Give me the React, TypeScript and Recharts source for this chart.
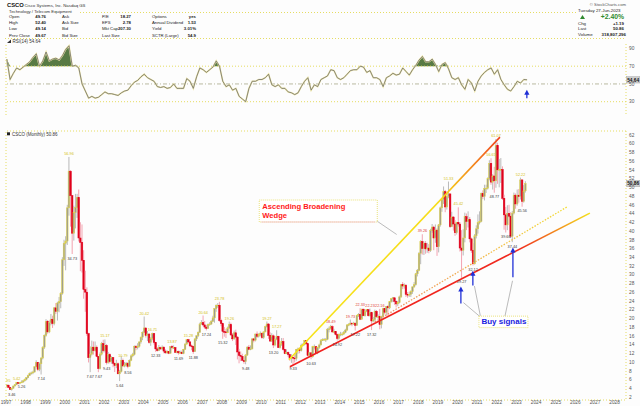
import React from 'react';
import {
  ComposedChart, Bar, Line, Area, Scatter, XAxis, YAxis, ReferenceLine, ReferenceDot,
} from 'recharts';

const FONT = '"Liberation Sans", Arial, sans-serif';
const FIRST_YEAR = 1997;
const FIRST_OPEN = 4.5;
const X_MIN = 1997;
const X_MAX = 2028.58;

// monthly closes, Jan 1997 .. Jun 2023
const closes = [
  4.7, 4.2, 3.7, 4.0, 4.5, 4.8, 5.3, 5.1, 5.3, 5.4, 5.7, 6.0,
  6.4, 6.9, 7.4, 7.5, 7.7, 8.9, 9.9, 8.3, 9.6, 10.9, 13.4, 16.1,
  19.3, 16.9, 19.0, 19.8, 18.8, 22.4, 21.6, 23.5, 23.8, 25.7, 33.4, 37.2,
  37.7, 45.3, 53.7, 48.1, 39.5, 44.2, 45.4, 47.7, 38.4, 37.4, 33.3, 26.6,
  26.0, 16.5, 11.0, 11.8, 13.4, 12.6, 13.4, 11.3, 8.5, 11.8, 14.2, 12.6,
  13.8, 9.9, 11.7, 10.1, 11.0, 9.7, 9.2, 9.6, 7.3, 7.8, 10.4, 9.1,
  9.3, 9.7, 9.0, 10.4, 11.4, 11.7, 13.6, 13.3, 13.6, 14.6, 15.7, 16.8,
  17.8, 16.1, 16.4, 14.5, 15.4, 16.5, 14.5, 13.0, 12.6, 13.3, 13.0, 13.4,
  12.5, 12.1, 12.4, 12.0, 13.5, 13.3, 13.3, 12.2, 12.4, 12.1, 12.2, 11.9,
  12.9, 14.1, 15.1, 14.6, 13.7, 13.6, 12.4, 15.3, 16.0, 16.8, 18.7, 19.0,
  18.5, 18.0, 17.7, 18.6, 18.7, 19.3, 20.1, 22.2, 23.0, 23.0, 19.5, 18.8,
  17.0, 16.9, 16.7, 17.8, 18.6, 16.2, 15.3, 16.7, 15.7, 12.3, 11.5, 11.3,
  10.4, 10.1, 11.6, 13.4, 12.9, 13.0, 15.3, 15.0, 16.4, 15.9, 16.3, 16.6,
  15.6, 16.9, 18.1, 18.7, 16.1, 14.8, 16.0, 13.9, 15.2, 15.9, 13.3, 14.1,
  14.7, 12.9, 11.9, 12.2, 11.7, 10.8, 11.1, 10.9, 10.8, 12.9, 13.0, 12.6,
  13.8, 14.0, 14.9, 14.2, 11.5, 12.1, 11.2, 13.5, 13.5, 12.1, 13.3, 13.9,
  14.9, 15.1, 15.2, 15.2, 17.5, 17.6, 18.1, 16.9, 17.0, 16.3, 15.4, 16.3,
  16.4, 16.4, 16.8, 17.3, 18.5, 18.6, 18.9, 18.7, 18.9, 18.4, 20.7, 20.9,
  19.8, 22.1, 20.6, 21.6, 22.0, 20.6, 21.3, 19.4, 19.7, 21.6, 20.4, 20.4,
  18.6, 20.4, 22.2, 21.4, 22.7, 22.4, 23.8, 24.5, 24.7, 23.9, 23.3, 23.6,
  24.9, 27.7, 27.4, 27.6, 25.5, 25.4, 25.5, 26.1, 27.2, 27.7, 30.2, 31.0,
  34.9, 37.6, 36.0, 37.2, 35.9, 36.1, 35.5, 40.1, 40.9, 38.4, 40.2, 36.4,
  41.4, 45.3, 47.2, 49.0, 45.5, 47.9, 48.5, 41.0, 43.2, 41.6, 39.6, 42.0,
  41.6, 36.1, 35.6, 38.4, 43.3, 42.2, 42.6, 38.2, 35.6, 32.5, 38.9, 40.5,
  41.9, 42.2, 48.6, 47.9, 49.7, 49.8, 52.0, 55.5, 51.2, 52.6, 51.5, 59.6,
  54.0, 54.1, 54.1, 47.5, 43.7, 41.4, 44.0, 43.4, 38.8, 44.1, 48.2, 46.2,
  48.2, 47.9, 51.7, 46.8, 49.2, 50.86,
];

const highs = [
  4.95, 4.8, 4.3, 4.1, 4.6, 4.9, 5.42, 5.4, 5.4, 5.8, 5.9, 6.2,
  6.5, 7.1, 7.6, 7.8, 8.0, 9.0, 10.4, 10.0, 9.9, 11.1, 13.6, 16.3,
  19.8, 19.6, 19.5, 21.0, 20.6, 22.6, 23.5, 23.8, 24.9, 26.0, 34.0, 38.0,
  38.8, 46.0, 56.96, 53.9, 48.2, 45.8, 48.5, 48.5, 49.5, 42.0, 41.5, 35.6,
  30.9, 27.1, 16.7, 13.6, 14.9, 14.7, 14.7, 13.8, 11.3, 12.2, 14.6, 15.1,
  15.17, 14.1, 12.3, 12.0, 11.3, 11.1, 9.9, 10.5, 9.9, 8.2, 11.3, 10.79,
  10.0, 10.0, 10.0, 10.6, 11.7, 12.1, 13.8, 13.9, 14.3, 14.7, 15.8, 17.0,
  20.42, 17.8, 17.1, 16.6, 15.7, 16.71, 16.5, 14.6, 13.4, 13.9, 13.5, 13.8,
  13.6, 12.9, 12.7, 12.5, 13.6, 13.87, 13.8, 13.4, 12.6, 12.6, 12.6, 12.6,
  13.0, 14.3, 15.1, 15.28, 14.8, 14.0, 13.7, 15.4, 16.1, 17.0, 19.0, 19.6,
  20.64, 19.4, 18.5, 18.8, 19.1, 19.6, 20.6, 22.3, 23.2, 23.5, 23.78, 19.9,
  19.0, 18.0, 17.6, 18.1, 19.26, 19.0, 16.6, 17.2, 17.4, 15.9, 13.0, 12.4,
  11.9, 11.2, 11.8, 13.6, 13.9, 13.8, 15.4, 15.5, 16.5, 17.0, 16.6, 17.0,
  16.7, 17.0, 18.3, 19.27, 18.9, 16.8, 16.6, 16.3, 15.4, 17.27, 16.0, 14.4,
  15.5, 15.5, 13.0, 12.9, 12.4, 11.8, 11.8, 11.2, 11.7, 13.0, 13.3, 13.3,
  14.2, 14.3, 15.0, 15.0, 14.2, 12.3, 12.2, 13.7, 14.0, 13.6, 13.5, 14.2,
  15.2, 15.4, 15.5, 15.5, 17.8, 18.1, 18.49, 18.4, 17.6, 17.1, 16.5, 16.5,
  16.9, 16.8, 17.1, 17.6, 18.6, 18.9, 19.73, 19.0, 19.2, 19.0, 20.8, 21.2,
  22.33, 22.2, 22.2, 22.0, 22.1, 22.0, 22.23, 21.5, 20.3, 22.0, 21.9, 20.9,
  22.16, 20.6, 22.4, 22.4, 22.8, 23.0, 23.9, 24.6, 24.9, 24.8, 24.1, 24.0,
  25.2, 27.8, 28.3, 28.0, 27.8, 26.0, 26.1, 26.4, 27.3, 28.3, 30.4, 31.3,
  35.2, 37.9, 39.26, 37.6, 37.7, 37.3, 37.0, 40.5, 41.6, 41.2, 41.5, 40.6,
  41.6, 45.6, 47.4, 50.2, 49.4, 48.0, 51.33, 48.5, 44.4, 43.4, 42.5, 42.1,
  45.42, 42.0, 40.2, 40.4, 44.2, 44.0, 44.5, 43.2, 38.5, 37.2, 39.3, 41.3,
  43.8, 44.5, 48.8, 49.3, 50.6, 50.6, 52.3, 56.2, 56.65, 53.0, 54.7, 61.07,
  60.2, 56.5, 56.7, 54.8, 48.3, 45.5, 45.9, 46.0, 44.3, 44.6, 48.8, 48.6,
  49.5, 49.6, 52.22, 51.8, 50.5, 51.4,
];

const lows = [
  4.3, 4.1, 3.6, 3.46, 3.9, 4.4, 4.7, 4.9, 4.9, 5.26, 5.3, 5.5,
  5.8, 6.3, 6.8, 7.1, 7.2, 7.6, 8.8, 7.9, 7.9, 7.14, 10.6, 13.0,
  15.8, 16.5, 16.6, 18.4, 17.8, 18.4, 21.0, 19.5, 21.4, 22.3, 25.4, 32.0,
  31.0, 36.8, 43.5, 41.0, 34.73, 37.8, 40.6, 43.0, 37.6, 30.8, 30.5, 24.5,
  21.5, 16.0, 9.9, 7.67, 11.5, 11.7, 12.4, 11.1, 7.67, 8.3, 11.5, 12.2,
  12.2, 9.43, 9.6, 9.7, 9.6, 8.8, 7.7, 8.6, 7.2, 5.64, 7.6, 8.9,
  8.8, 8.9, 8.56, 8.9, 10.2, 11.1, 11.5, 12.7, 12.9, 13.3, 14.2, 15.0,
  16.7, 15.6, 14.8, 14.2, 13.7, 15.0, 14.0, 12.33, 12.4, 12.5, 12.8, 12.7,
  12.0, 11.9, 11.9, 11.8, 11.9, 12.9, 13.0, 12.1, 12.0, 11.69, 11.9, 11.8,
  11.8, 12.8, 14.0, 14.3, 13.4, 12.7, 11.88, 12.3, 14.8, 15.7, 16.7, 18.5,
  18.2, 17.6, 17.24, 17.6, 18.3, 18.5, 19.2, 19.0, 21.5, 22.4, 19.2, 18.2,
  15.32, 15.8, 15.5, 16.6, 17.6, 16.0, 14.8, 15.1, 13.9, 10.6, 9.7, 10.2,
  10.2, 9.6, 9.48, 11.4, 12.7, 12.7, 12.9, 14.5, 14.7, 15.5, 15.6, 15.9,
  15.3, 15.3, 16.8, 17.9, 15.3, 14.6, 14.6, 13.2, 13.6, 15.0, 13.2, 13.1,
  13.7, 12.6, 11.8, 11.8, 11.2, 10.3, 9.8, 9.33, 9.9, 10.3, 11.9, 12.0,
  12.4, 13.6, 13.8, 13.9, 11.3, 11.4, 10.63, 11.0, 12.9, 11.9, 11.8, 13.0,
  13.8, 14.8, 14.9, 14.6, 15.0, 16.8, 17.4, 16.7, 16.6, 16.1, 14.92, 15.1,
  15.9, 16.0, 16.2, 16.6, 17.2, 18.2, 18.4, 18.2, 18.5, 17.22, 18.3, 20.3,
  19.6, 19.7, 20.5, 20.4, 21.4, 20.4, 20.4, 17.32, 19.1, 19.3, 20.1, 19.9,
  17.5, 17.7, 20.2, 20.9, 20.8, 20.6, 22.1, 23.6, 23.7, 23.1, 22.5, 22.8,
  23.4, 24.7, 26.7, 26.8, 24.9, 24.7, 24.9, 24.9, 25.6, 27.0, 27.5, 29.6,
  30.8, 32.4, 34.6, 34.5, 34.8, 35.0, 34.9, 35.2, 39.6, 35.6, 37.3, 34.3,
  35.1, 41.0, 44.4, 46.2, 44.3, 44.9, 47.5, 40.7, 40.9, 40.1, 38.9, 39.2,
  41.0, 35.3, 29.27, 34.4, 37.4, 40.2, 40.8, 37.4, 35.0, 32.12, 32.3, 38.3,
  39.4, 41.5, 42.0, 47.3, 47.0, 48.7, 49.5, 51.6, 50.6, 49.5, 48.77, 49.9,
  50.8, 50.0, 51.0, 47.1, 40.3, 39.66, 40.2, 43.1, 38.4, 37.44, 43.8, 45.1,
  45.8, 46.5, 47.2, 45.56, 46.5, 48.8,
];

// RSI(14), one reading every second month from Jan 1997
const rsiValues = [
  78, 55, 62, 68, 66, 69, 72, 75, 80, 84,
  70, 76, 86, 76, 78, 79, 77, 82, 89, 93,
  70, 71, 68, 50, 42, 34, 36, 34, 35, 38,
  41, 39, 39, 38, 37, 40, 42, 43, 48, 52,
  54, 58, 61, 57, 55, 53, 47, 46, 47, 45,
  46, 50, 45, 45, 45, 56, 53, 45, 58, 68,
  66, 63, 66, 69, 76, 70, 53, 47, 49, 43,
  45, 36, 33, 30, 45, 53, 53, 55, 55, 57,
  61, 49, 47, 49, 45, 45, 41, 40, 38, 40,
  47, 53, 57, 43, 49, 47, 55, 57, 59, 66,
  65, 57, 55, 57, 61, 65, 66, 66, 70, 69,
  63, 65, 57, 57, 55, 47, 57, 59, 62, 60,
  61, 68, 64, 60, 66, 71, 77, 81, 75, 75,
  78, 72, 64, 72, 74, 67, 57, 55, 57, 49,
  44, 55, 51, 42, 53, 59, 63, 66, 68, 61,
  66, 55, 49, 44, 42, 47, 53, 51, 55, 54.64,
];

const yearTicks = [
  1997, 1998, 1999, 2000, 2001, 2002, 2003, 2004, 2005, 2006, 2007, 2008, 2009, 2010, 2011, 2012,
  2013, 2014, 2015, 2016, 2017, 2018, 2019, 2020, 2021, 2022, 2023, 2024, 2025, 2026, 2027, 2028,
];
const priceTicks = [
  2, 4, 6, 8, 10, 12, 14, 16, 18, 20, 22, 24, 26, 28, 30, 32,
  34, 36, 38, 40, 42, 44, 46, 48, 50, 52, 54, 56, 58, 60, 62,
];
const rsiTicks = [30, 50, 70, 90];

// swing high / low labels: month, side, text
const swingLabels: [string, string, string][] = [
  ['1997-01', 'high', '4.95'], ['1997-04', 'low', '3.46'], ['1997-07', 'high', '5.42'],
  ['1997-10', 'low', '5.26'], ['1998-10', 'low', '7.14'], ['2000-03', 'high', '56.96'],
  ['2000-05', 'low', '34.73'], ['2001-04', 'low', '7.67'], ['2001-09', 'low', '7.67'],
  ['2002-01', 'high', '15.17'], ['2002-02', 'low', '9.43'], ['2002-10', 'low', '5.64'],
  ['2002-12', 'high', '10.79'], ['2003-03', 'low', '8.56'], ['2004-01', 'high', '20.42'],
  ['2004-06', 'high', '16.71'], ['2004-08', 'low', '12.33'], ['2005-06', 'high', '13.87'],
  ['2005-10', 'low', '11.69'], ['2006-04', 'high', '15.28'], ['2006-07', 'low', '11.88'],
  ['2007-01', 'high', '20.64'], ['2007-03', 'low', '17.24'], ['2007-11', 'high', '23.78'],
  ['2008-01', 'low', '15.32'], ['2008-05', 'high', '19.26'], ['2009-03', 'low', '9.48'],
  ['2010-04', 'high', '19.27'], ['2010-08', 'low', '13.20'], ['2010-10', 'high', '17.27'],
  ['2011-08', 'low', '9.33'], ['2012-07', 'low', '10.63'], ['2013-07', 'high', '18.49'],
  ['2013-11', 'low', '14.92'], ['2014-07', 'high', '19.73'], ['2014-10', 'low', '17.22'],
  ['2015-01', 'high', '22.33'], ['2015-07', 'high', '22.23'], ['2015-08', 'low', '17.32'],
  ['2016-01', 'high', '22.16'], ['2018-03', 'high', '39.26'], ['2019-07', 'high', '51.33'],
  ['2020-01', 'high', '45.42'], ['2020-03', 'low', '29.27'], ['2020-10', 'low', '32.12'],
  ['2021-09', 'high', '56.65'], ['2021-11', 'low', '48.77'], ['2021-12', 'high', '61.07'],
  ['2022-06', 'low', '39.66'], ['2022-10', 'low', '37.44'], ['2023-03', 'high', '52.22'],
  ['2023-04', 'low', '45.56'],
];

// drawn trend lines (year, price)
const wedgeUpper = [{ x: 2011.41, y: 10.5 }, { x: 2022.16, y: 61.5 }];
const wedgeLower = [{ x: 2011.46, y: 8.9 }, { x: 2026.74, y: 44.1 }];
const wedgeInner = [{ x: 2015.79, y: 19.2 }, { x: 2025.57, y: 45.5 }];

// buy-signal arrows: year, tail price, head price
const buyArrows = [
  { t: 2020.17, from: 23.4, to: 27.3 },
  { t: 2020.78, from: 27.5, to: 30.9 },
  { t: 2022.82, from: 29.4, to: 36.2 },
];
const buyCallouts = [
  [{ x: 2021.14, y: 20.4 }, { x: 2020.3, y: 23.6 }],
  [{ x: 2021.16, y: 20.6 }, { x: 2020.86, y: 27.4 }],
  [{ x: 2022.41, y: 20.4 }, { x: 2022.8, y: 28.6 }],
];

const monthIndex = (m: string) => (Number(m.slice(0, 4)) - FIRST_YEAR) * 12 + Number(m.slice(5, 7)) - 1;
const monthT = (i: number) => FIRST_YEAR + (i + 0.5) / 12;

const candles = closes.map((close, i) => ({
  t: monthT(i),
  open: i === 0 ? FIRST_OPEN : closes[i - 1],
  close,
  high: highs[i],
  low: lows[i],
}));

const labelPoints = swingLabels.map(([m, side, text]) => {
  const i = monthIndex(m);
  return { t: monthT(i), p: side === 'high' ? highs[i] : lows[i], side, text };
});

const rsiData = rsiValues.map((v, i) => ({
  t: FIRST_YEAR + (2 * i + 0.5) / 12,
  rsi: v,
  over: Math.max(v, 70),
}));

// small text: drawn at 6px and scaled down, so the browser's minimum font size does not apply
const Tx = ({ x, y, s = 5, children, ...rest }: any) => (
  <text transform={`translate(${x},${y}) scale(${s / 6})`} x={0} y={0} fontSize={6} {...rest}>
    {children}
  </text>
);

const Candle = (props: any) => {
  const d = props.payload || props;
  let { x, y, width, height } = props;
  if (d == null || y == null || height == null) return null;
  if (height < 0) { y += height; height = -height; }
  const span = d.high - d.low || 1;
  const yOf = (v: number) => y + ((d.high - v) / span) * height;
  const up = d.close >= d.open;
  const cx = x + width / 2;
  const top = yOf(Math.max(d.open, d.close));
  const bot = yOf(Math.min(d.open, d.close));
  return (
    <g>
      <line x1={cx} x2={cx} y1={y} y2={y + height} stroke={up ? '#a8a8a8' : '#f08c9c'} strokeWidth={0.8} />
      <rect
        x={cx - 0.8} y={top} width={1.6} height={Math.max(bot - top, 0.8)}
        fill={up ? '#9a9a94' : '#e0001b'} stroke={up ? '#e4d640' : '#e0001b'} strokeWidth={0.5}
      />
    </g>
  );
};

const SwingLabel = (props: any) => {
  const { cx, cy, payload } = props;
  if (cx == null) return null;
  const high = payload.side === 'high';
  let fill = high ? '#d4bd12' : '#3a3a3a';
  if (high && payload.t > 2012.5 && payload.t < 2018.6) fill = '#e03a30';
  return (
    <Tx x={cx} y={high ? cy - 2 : cy + 5.5} s={3.8} textAnchor="middle" fill={fill} fontFamily={FONT}>
      {payload.text}
    </Tx>
  );
};

const Arrow = (props: any) => {
  const { x1, y1, x2, y2 } = props;
  if (x1 == null) return null;
  return (
    <g>
      <line x1={x1} y1={y1} x2={x2} y2={y2 + 4} stroke="#1f2fd6" strokeWidth={1.3} />
      <polygon points={`${x2},${y2} ${x2 - 2.6},${y2 + 5} ${x2 + 2.6},${y2 + 5}`} fill="#1f2fd6" />
    </g>
  );
};

const WedgeNote = (props: any) => {
  const { cx, cy } = props;
  if (cx == null) return null;
  return (
    <g fontFamily={FONT}>
      <rect x={cx} y={cy} width={118} height={22} fill="#ffffff" stroke="#e9e27a" strokeDasharray="1 1" />
      <line x1={cx + 2} x2={cx + 116} y1={cy + 22} y2={cy + 22} stroke="#f4c6cc" />
      <text x={cx + 3} y={cy + 9} fontSize={7.6} fontWeight="bold" fill="#ff1a1a">Ascending Broadening</text>
      <text x={cx + 3} y={cy + 17.6} fontSize={7.6} fontWeight="bold" fill="#ff1a1a">Wedge</text>
    </g>
  );
};

const BuyNote = (props: any) => {
  const { cx, cy } = props;
  if (cx == null) return null;
  return (
    <g fontFamily={FONT}>
      <rect x={cx} y={cy} width={49} height={11.5} fill="#ffffff" stroke="#e9e27a" strokeDasharray="1 1" />
      <text x={cx + 2.5} y={cy + 8} fontSize={8} fontWeight="bold" fill="#1a22e0">Buy signals</text>
    </g>
  );
};

const ValueTag = (props: any) => {
  const { cx, cy, text } = props;
  if (cx == null) return null;
  return (
    <g fontFamily={FONT}>
      <rect x={cx + 0.5} y={cy - 3.2} width={13.5} height={6.4} fill="#cfcfcf" stroke="#9a9a9a" strokeWidth={0.4} />
      <Tx x={cx + 7.2} y={cy + 1.8} s={4.8} fontWeight="bold" fill="#111" textAnchor="middle">{text}</Tx>
    </g>
  );
};

const AxisTick = (props: any) => {
  const { x, y, payload, textAnchor, vertical } = props;
  return (
    <Tx
      x={x} y={vertical ? y + 1.8 : y + 4} s={4.8} textAnchor={textAnchor}
      fill="#555" fontFamily={FONT}
    >
      {String(payload.value)}
    </Tx>
  );
};

const dotted = { stroke: '#e6dd62', strokeDasharray: '1 2', strokeWidth: 1 };

const quoteRows = [
  ['Open', '49.76', 'Ask', 'P/E', '18.27', 'Options', 'yes'],
  ['High', '52.40', 'Ask Size', 'EPS', '2.78', 'Annual Dividend', '1.53'],
  ['Low', '49.14', 'Bid', 'Mkt Cap', '207.30', 'Yield', '3.01%'],
  ['Prev Close', '49.67', 'Bid Size', 'Last Size', '', 'SCTR (Large)', '54.9'],
];

const Header = () => (
  <svg width={640} height={406} style={{ position: 'absolute', left: 0, top: 0, pointerEvents: 'none' }}>
    <g fontFamily={FONT} fill="#222">
      <Tx x={7} y={7.4} s={5.8} fontWeight="bold" fill="#111">CSCO</Tx>
      <Tx x={24.5} y={7} s={4.3} fill="#333">Cisco Systems, Inc.  Nasdaq GS</Tx>
      <Tx x={9} y={12.8} s={4.3} fill="#333">Technology / Telecom Equipment</Tx>
      <line x1={80} x2={577} y1={12.5} y2={12.5} {...dotted} />
      {quoteRows.map((r, k) => {
        const y = 18 + k * 6.2;
        return (
          <g key={k}>
            <Tx x={9} y={y} s={4.3}>{r[0]}</Tx>
            <Tx x={46} y={y} s={4.3} textAnchor="end" fontWeight="bold">{r[1]}</Tx>
            <Tx x={62} y={y} s={4.3}>{r[2]}</Tx>
            <Tx x={102} y={y} s={4.3}>{r[3]}</Tx>
            <Tx x={131} y={y} s={4.3} textAnchor="end" fontWeight="bold">{r[4]}</Tx>
            <Tx x={152} y={y} s={4.3}>{r[5]}</Tx>
            <Tx x={196} y={y} s={4.3} textAnchor="end" fontWeight="bold">{r[6]}</Tx>
          </g>
        );
      })}
      <Tx x={626} y={5.6} s={4.2} fill="#555" textAnchor="end">© StockCharts.com</Tx>
      <Tx x={578} y={12.4} s={4.4}>Tuesday  27-Jun-2023</Tx>
      <polygon points="580,19 582.5,15 585,19" fill="#2f8a2f" />
      <text x={624} y={19.2} fontSize={6.8} fontWeight="bold" fill="#2f8a2f" textAnchor="end">+2.40%</text>
      <Tx x={578} y={24.6} s={4.4}>Chg</Tx>
      <Tx x={624} y={24.6} s={4.4} fontWeight="bold" textAnchor="end">+1.19</Tx>
      <Tx x={578} y={30.4} s={4.4}>Last</Tx>
      <Tx x={624} y={30.4} s={4.4} fontWeight="bold" textAnchor="end">50.86</Tx>
      <Tx x={578} y={36.2} s={4.4}>Volume</Tx>
      <Tx x={626} y={36.2} s={4.4} fontWeight="bold" textAnchor="end">318,807,296</Tx>
      <line x1={5} x2={626} y1={38.5} y2={38.5} {...dotted} />
      <polygon points="7,43 11,43 11,39.5" fill="#333" />
      <Tx x={12.5} y={42.6} s={4.5} fill="#333">RSI(14) 54.64</Tx>
      <rect x={7} y={132.3} width={3} height={3} fill="#222" />
      <Tx x={12} y={135.6} s={4.5} fill="#333">CSCO (Monthly) 50.86</Tx>
    </g>
  </svg>
);

export default function App() {
  return (
    <div style={{ position: 'relative', width: 640, height: 406, background: '#fdfdfd', overflow: 'hidden', fontFamily: FONT }}>
      <style>{'body{margin:0;background:#fdfdfd}'}</style>

      {/* RSI panel */}
      <div style={{ position: 'absolute', left: 0, top: 44 }}>
        <ComposedChart width={640} height={71} data={rsiData} margin={{ top: 0, right: 0, bottom: 0, left: 6 }}>
          <XAxis dataKey="t" type="number" domain={[X_MIN, X_MAX]} hide allowDataOverflow />
          <YAxis
            orientation="right" width={14} domain={[15, 95]} ticks={rsiTicks} interval={0}
            tick={(p: any) => <AxisTick {...p} vertical />} tickLine={false} tickSize={0} tickMargin={3}
            axisLine={dotted} allowDataOverflow
          />
          <ReferenceLine x={X_MIN} {...dotted} />
          <ReferenceLine y={70} {...dotted} />
          <ReferenceLine y={30} {...dotted} />
          <ReferenceLine y={50} stroke="#b9b9a0" strokeDasharray="4 2 1 2" />
          <Area
            dataKey="over" baseValue={70} type="linear" fill="#587a44" fillOpacity={1}
            stroke="none" isAnimationActive={false} dot={false} activeDot={false}
          />
          <Line dataKey="rsi" type="linear" stroke="#eee6a4" strokeWidth={1.6} dot={false} activeDot={false} isAnimationActive={false} />
          <Line dataKey="rsi" type="linear" stroke="#707070" strokeWidth={0.8} dot={false} activeDot={false} isAnimationActive={false} />
          <ReferenceLine
            segment={[{ x: 2023.53, y: 34 }, { x: 2023.53, y: 43.5 }]}
            shape={(p: any) => <Arrow {...p} />}
          />
          <ReferenceDot x={X_MAX} y={54.64} r={0} ifOverflow="visible" shape={(p: any) => <ValueTag {...p} text="54.64" />} />
        </ComposedChart>
      </div>

      {/* price panel */}
      <div style={{ position: 'absolute', left: 0, top: 120 }}>
        <ComposedChart width={640} height={286} data={candles} margin={{ top: 11, right: 0, bottom: 0, left: 6 }}>
          <defs>
            <linearGradient id="upperGrad" x1="0" y1="0" x2="1" y2="0">
              <stop offset="0%" stopColor="#f6e31a" />
              <stop offset="72%" stopColor="#f6dc1a" />
              <stop offset="100%" stopColor="#f0401c" />
            </linearGradient>
            <linearGradient id="lowerGrad" x1="0" y1="0" x2="1" y2="0">
              <stop offset="0%" stopColor="#f01e1e" />
              <stop offset="76%" stopColor="#f02a1e" />
              <stop offset="100%" stopColor="#f4e21c" />
            </linearGradient>
            <linearGradient id="innerGrad" x1="0" y1="0" x2="1" y2="0">
              <stop offset="0%" stopColor="#f08a6a" />
              <stop offset="100%" stopColor="#f2dc30" />
            </linearGradient>
          </defs>
          <XAxis
            dataKey="t" type="number" domain={[X_MIN, X_MAX]} ticks={yearTicks} interval={0}
            tick={(p: any) => <AxisTick {...p} />} tickLine={false}
            tickSize={0} tickMargin={0} height={6} axisLine={dotted} allowDataOverflow
          />
          <YAxis
            orientation="right" width={14} domain={[1.3, 62.9]} ticks={priceTicks} interval={0}
            tick={(p: any) => <AxisTick {...p} vertical />} tickLine={false} tickSize={0} tickMargin={3}
            axisLine={dotted} allowDataOverflow
          />
          <ReferenceLine x={X_MIN} {...dotted} />
          <ReferenceLine y={62.9} {...dotted} />
          <ReferenceLine segment={wedgeUpper} stroke="url(#upperGrad)" strokeWidth={1.6} />
          <ReferenceLine segment={wedgeLower} stroke="url(#lowerGrad)" strokeWidth={1.6} />
          <ReferenceLine segment={wedgeInner} stroke="url(#innerGrad)" strokeWidth={1.3} strokeDasharray="1.5 1.5" />
          <Bar dataKey={(d: any) => [d.low, d.high]} barSize={2} shape={(p: any) => <Candle {...p} />} isAnimationActive={false} />
          <Scatter data={labelPoints} dataKey="p" shape={(p: any) => <SwingLabel {...p} />} isAnimationActive={false} />
          <ReferenceLine segment={[{ x: 2015.79, y: 42.6 }, { x: 2016.9, y: 39.2 }]} stroke="#a9a9a9" strokeWidth={0.8} />
          {buyCallouts.map((s, k) => (
            <ReferenceLine key={`c${k}`} segment={s} stroke="#a9a9a9" strokeWidth={0.8} />
          ))}
          {buyArrows.map((a, k) => (
            <ReferenceLine
              key={`a${k}`}
              segment={[{ x: a.t, y: a.from }, { x: a.t, y: a.to }]}
              shape={(p: any) => <Arrow {...p} />}
            />
          ))}
          <ReferenceDot x={2009.9} y={47.1} r={0} ifOverflow="visible" shape={(p: any) => <WedgeNote {...p} />} />
          <ReferenceDot x={2021.09} y={20.5} r={0} ifOverflow="visible" shape={(p: any) => <BuyNote {...p} />} />
          <ReferenceDot x={X_MAX} y={50.86} r={0} ifOverflow="visible" shape={(p: any) => <ValueTag {...p} text="50.86" />} />
        </ComposedChart>
      </div>

      <Header />
    </div>
  );
}
